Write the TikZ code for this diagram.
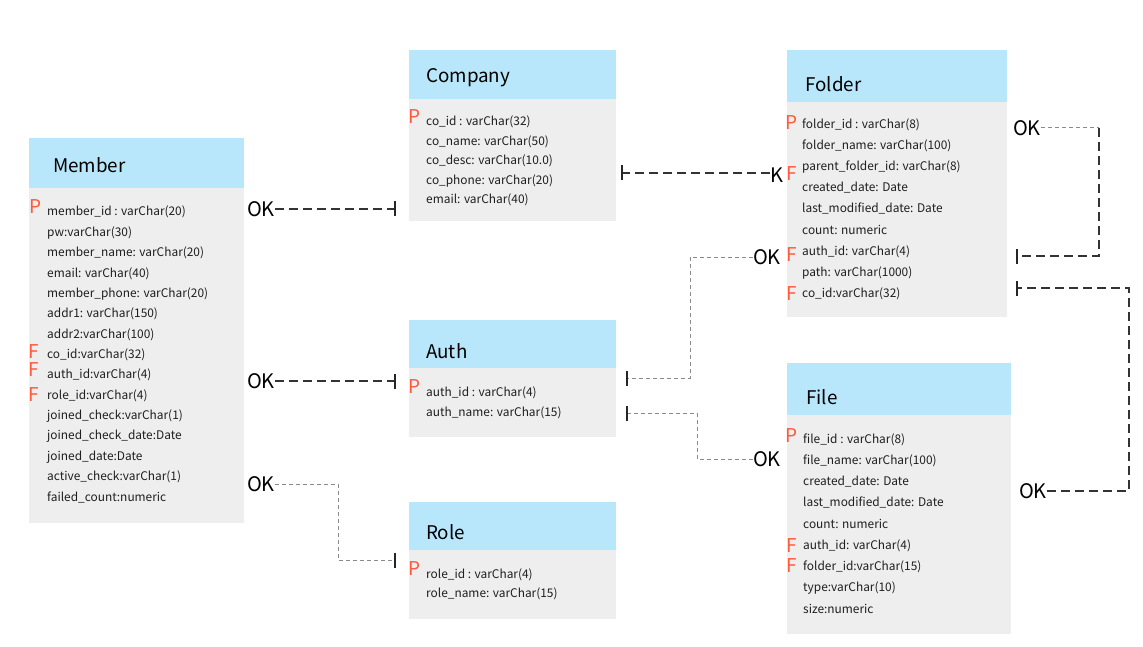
\documentclass[tikz,border=0pt]{standalone}
\usepackage{fontspec}
\setmainfont{Noto Sans CJK KR}
\usetikzlibrary{arrows.meta}
\definecolor{hdrblue}{HTML}{B8E7FB}
\definecolor{bodygray}{HTML}{EEEEEE}
\definecolor{keyred}{HTML}{FF5A3C}
\definecolor{linkdark}{HTML}{333333}
\definecolor{linkgray}{HTML}{8A8A8A}
\tikzset{
 hdrbox/.style={fill=hdrblue, draw=none, anchor=north west, inner sep=0pt, outer sep=0pt},
 bodybox/.style={fill=bodygray, draw=none, anchor=north west, inner sep=0pt, outer sep=0pt},
 title/.style={anchor=base west, inner sep=0pt, font=\fontsize{18.8}{22}\selectfont},
 field/.style={anchor=base west, inner sep=0pt, font=\fontsize{11.9}{14}\selectfont, text=black!88},
 keymark/.style={anchor=center, inner sep=0pt, text=keyred, font=\fontsize{19}{22}\selectfont},
 oklabel/.style={anchor=center, inner sep=0pt, font=\fontsize{20}{24}\selectfont},
 strongrel/.style={draw=linkdark, line width=2.3pt, dash pattern=on 9pt off 5pt},
 weakrel/.style={draw=linkgray, line width=1pt, dash pattern=on 4pt off 3pt},
 barend/.style={-{Bar[width=15pt,line width=2pt,color=black!85]}}
}
\begin{document}
\begin{tikzpicture}[x=1pt,y=-1pt]
\fill[white] (0,0) rectangle (1143,647);
\useasboundingbox (0,0) rectangle (1143,647);

% ---------- Member ----------
\node[hdrbox, minimum width=215pt, minimum height=50pt] (memH) at (29,138) {};
\node[bodybox, minimum width=215pt, minimum height=335pt] (memB) at (29,188) {};
\node[title] (memT) at (53,173) {Member};
\foreach \t [count=\i from 0] in {member\_id : varChar(20), pw:varChar(30), member\_name: varChar(20), email: varChar(40), member\_phone: varChar(20), addr1: varChar(150), addr2:varChar(100), co\_id:varChar(32), auth\_id:varChar(4), role\_id:varChar(4), joined\_check:varChar(1), joined\_check\_date:Date, joined\_date:Date, active\_check:varChar(1), failed\_count:numeric}
  \node[field] (mem-\i) at (47,216+\i*20.36) {\t};
\node[keymark] (memP) at (35.5,207) {P};
\node[keymark] (memF1) at (34,351.5) {F};
\node[keymark] (memF2) at (34,369.5) {F};
\node[keymark] (memF3) at (34,395) {F};

% ---------- Company ----------
\node[hdrbox, minimum width=207pt, minimum height=49pt] (coH) at (409,50) {};
\node[bodybox, minimum width=207pt, minimum height=122pt] (coB) at (409,99) {};
\node[title] (coT) at (426,83) {Company};
\foreach \t [count=\i from 0] in {co\_id : varChar(32), co\_name: varChar(50), co\_desc: varChar(10.0), co\_phone: varChar(20), email: varChar(40)}
  \node[field] (co-\i) at (426,126+\i*19.5) {\t};
\node[keymark] (coP) at (414.5,117) {P};

% ---------- Folder ----------
\node[hdrbox, minimum width=220pt, minimum height=52pt] (foH) at (787,50) {};
\node[bodybox, minimum width=220pt, minimum height=215pt] (foB) at (787,102) {};
\node[title] (foT) at (805,92) {Folder};
\foreach \t [count=\i from 0] in {folder\_id : varChar(8), folder\_name: varChar(100), parent\_folder\_id: varChar(8), created\_date: Date, last\_modified\_date: Date, count: numeric, auth\_id: varChar(4), path: varChar(1000), co\_id:varChar(32)}
  \node[field] (fo-\i) at (802,129+\i*21) {\t};
\node[keymark] (foP) at (792,123) {P};
\node[keymark] (foF1) at (792,173.5) {F};
\node[keymark] (foF2) at (792,254.5) {F};
\node[keymark] (foF3) at (792,293.5) {F};

% ---------- Auth ----------
\node[hdrbox, minimum width=207pt, minimum height=48pt] (auH) at (409,320) {};
\node[bodybox, minimum width=207pt, minimum height=69pt] (auB) at (409,368) {};
\node[title] (auT) at (426,358) {Auth};
\node[field] (au-0) at (426,396) {auth\_id : varChar(4)};
\node[field] (au-1) at (426,416) {auth\_name: varChar(15)};
\node[keymark] (auP) at (414.5,386.5) {P};

% ---------- File ----------
\node[hdrbox, minimum width=224pt, minimum height=52pt] (fiH) at (787,363) {};
\node[bodybox, minimum width=224pt, minimum height=219pt] (fiB) at (787,415) {};
\node[title] (fiT) at (806,404) {File};
\foreach \t [count=\i from 0] in {file\_id : varChar(8), file\_name: varChar(100), created\_date: Date, last\_modified\_date: Date, count: numeric, auth\_id: varChar(4), folder\_id:varChar(15), type:varChar(10), size:numeric}
  \node[field] (fi-\i) at (803,443+\i*21.25) {\t};
\node[keymark] (fiP) at (792,435.5) {P};
\node[keymark] (fiF1) at (792,546) {F};
\node[keymark] (fiF2) at (792,565.5) {F};

% ---------- Role ----------
\node[hdrbox, minimum width=207pt, minimum height=48pt] (roH) at (409,502) {};
\node[bodybox, minimum width=207pt, minimum height=69pt] (roB) at (409,550) {};
\node[title] (roT) at (426,539) {Role};
\node[field] (ro-0) at (426,578) {role\_id : varChar(4)};
\node[field] (ro-1) at (426,597.5) {role\_name: varChar(15)};
\node[keymark] (roP) at (414.5,568.5) {P};

% ---------- relation end labels and points ----------
\node[oklabel] (ok1) at (261,209) {OK};
\coordinate (bar1) at (396,209);
\coordinate (bar2) at (621,173);
\node[oklabel] (k2) at (777,175.5) {K};
\node[oklabel] (ok3) at (261,381) {OK};
\coordinate (bar3) at (396,381);
\node[oklabel] (ok4) at (261,484) {OK};
\coordinate (bar4) at (396,560);
\coordinate (j4) at (338,0);
\node[oklabel] (ok5) at (767,257) {OK};
\coordinate (bar5) at (626,378);
\coordinate (j5) at (690,0);
\node[oklabel] (ok6) at (767,459) {OK};
\coordinate (bar6) at (626,413);
\coordinate (j6) at (697,0);
\node[oklabel] (ok7) at (1027,128) {OK};
\coordinate (bar7) at (1016,256);
\coordinate (j7) at (1099,0);
\node[oklabel] (ok8) at (1033,491) {OK};
\coordinate (bar8) at (1016,288);
\coordinate (j8) at (1129,0);

% ---------- connectors ----------
\draw[strongrel, barend] (ok1.east) -- (bar1);
\draw[strongrel, barend] (k2.west |- bar2) -- (bar2);
\draw[strongrel, barend] (ok3.east) -- (bar3);
\draw[weakrel, barend] (ok4.east) -- (ok4.east -| j4) -- (j4 |- bar4) -- (bar4);
\draw[weakrel, barend] (ok5.west) -- (ok5.west -| j5) -- (j5 |- bar5) -- (bar5);
\draw[weakrel, barend] (ok6.west) -- (ok6.west -| j6) -- (j6 |- bar6) -- (bar6);
\draw[weakrel] (ok7.east) -- (ok7.east -| j7);
\draw[strongrel, barend] (ok7.east -| j7) -- (j7 |- bar7) -- (bar7);
\draw[strongrel, barend] (ok8.east) -- (ok8.east -| j8) -- (j8 |- bar8) -- (bar8);
\end{tikzpicture}
\end{document}
